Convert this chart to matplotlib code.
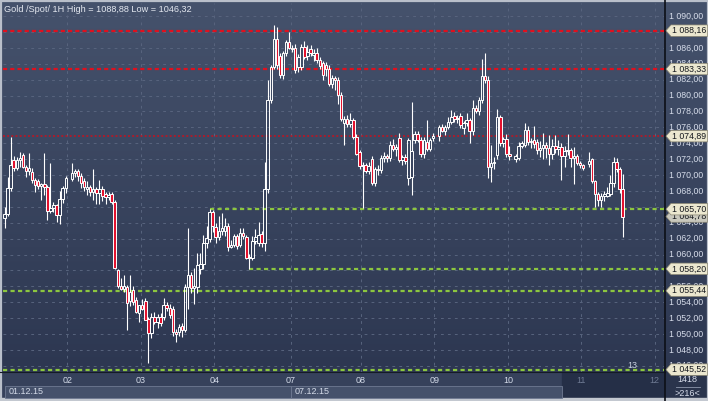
import numpy as np
import matplotlib.pyplot as plt
from matplotlib.patches import Polygon, Rectangle
from matplotlib.colors import LinearSegmentedColormap
from matplotlib.transforms import blended_transform_factory

plt.rcParams['font.family'] = ['Liberation Sans', 'DejaVu Sans']
plt.rcParams['lines.scale_dashes'] = False

# hourly candles (open, high, low, close), None = no bar
day01 = [
    (1064.6, 1066.0, 1063.3, 1065.1), (1065.1, 1069.8, 1064.8, 1068.4),
    (1068.4, 1074.8, 1068.0, 1071.3), (1071.9, 1072.4, 1070.5, 1070.9),
    (1070.9, 1072.3, 1070.6, 1071.9), (1071.9, 1072.9, 1071.0, 1072.2),
    (1072.5, 1072.8, 1070.9, 1071.0), (1071.0, 1071.2, 1069.8, 1070.5),
    (1070.5, 1072.8, 1070.0, 1070.9), (1070.4, 1070.9, 1069.0, 1069.4),
    (1069.4, 1069.6, 1067.9, 1068.7), (1069.2, 1069.5, 1068.3, 1068.6),
    (1068.6, 1069.0, 1066.9, 1068.9), (1068.9, 1072.8, 1067.5, 1068.5),
    (1068.5, 1068.8, 1064.3, 1065.5), (1065.5, 1071.5, 1065.2, 1065.9),
    (1065.9, 1066.6, 1065.3, 1066.2), (1066.2, 1066.4, 1064.1, 1065.0),
    (1065.0, 1068.0, 1063.8, 1067.0), (1067.0, 1068.6, 1066.5, 1068.4),
    (1068.4, 1069.9, 1067.8, 1069.6),
]
day02 = [
    None,
    (1069.5, 1071.5, 1069.2, 1070.2), (1070.2, 1070.8, 1069.8, 1070.5),
    (1070.5, 1070.7, 1069.2, 1069.9), (1069.9, 1070.3, 1068.4, 1069.0),
    (1069.2, 1069.6, 1068.0, 1068.5), (1068.3, 1069.2, 1067.5, 1068.5),
    (1068.5, 1068.8, 1067.3, 1067.9), (1067.9, 1070.8, 1066.8, 1068.2),
    (1068.3, 1068.5, 1066.4, 1067.7), (1067.7, 1069.4, 1066.3, 1068.2),
    (1068.2, 1068.6, 1066.7, 1067.3), (1067.6, 1067.9, 1066.3, 1067.2),
    (1067.2, 1067.9, 1066.9, 1067.5), (1067.6, 1067.9, 1066.4, 1066.6),
    (1066.6, 1066.8, 1058.2, 1058.3), (1058.0, 1058.2, 1055.8, 1056.0),
    (1056.0, 1057.0, 1055.5, 1055.7), (1055.7, 1057.4, 1055.3, 1056.0),
    (1055.9, 1056.2, 1050.5, 1053.9), (1054.2, 1057.4, 1053.5, 1055.3),
    (1055.5, 1056.0, 1053.7, 1054.0), (1054.3, 1054.6, 1052.6, 1052.8),
    (1052.7, 1053.7, 1051.5, 1053.6),
]
day03 = [
    (1053.6, 1054.4, 1053.0, 1053.2), (1054.1, 1054.5, 1051.7, 1051.8),
    (1051.9, 1052.2, 1046.32, 1050.1), (1050.1, 1052.6, 1049.5, 1052.2),
    (1052.2, 1052.8, 1051.3, 1051.5), (1051.5, 1052.5, 1050.8, 1052.2),
    (1052.2, 1052.6, 1051.0, 1051.4), (1052.2, 1054.5, 1051.8, 1053.6),
    (1053.6, 1054.0, 1052.9, 1053.3), (1053.3, 1053.8, 1052.0, 1052.4),
    (1053.2, 1053.5, 1049.7, 1050.3), (1050.3, 1050.6, 1049.0, 1050.0),
    (1050.3, 1051.3, 1049.8, 1050.9), (1051.0, 1051.4, 1049.6, 1050.5),
    (1050.5, 1056.3, 1050.2, 1055.9), (1055.9, 1063.3, 1053.2, 1057.4),
    (1057.4, 1057.8, 1055.2, 1055.8), (1055.8, 1058.3, 1053.8, 1056.0),
    (1055.9, 1060.2, 1055.2, 1058.7), (1058.2, 1060.2, 1057.5, 1058.8),
    (1058.8, 1062.5, 1058.2, 1061.4), (1061.4, 1063.6, 1060.8, 1062.1),
    (1062.0, 1065.7, 1061.6, 1065.4), (1065.4, 1065.6, 1062.8, 1063.6),
]
day04 = [
    (1063.5, 1064.0, 1061.5, 1062.2), (1062.2, 1064.8, 1061.8, 1063.0),
    (1063.0, 1065.2, 1062.5, 1063.3), (1063.0, 1064.6, 1062.3, 1063.6),
    (1063.6, 1064.0, 1060.5, 1061.0), (1061.0, 1061.8, 1060.8, 1061.2),
    (1061.2, 1062.6, 1060.9, 1062.3), (1062.3, 1062.6, 1060.7, 1061.1),
    (1061.2, 1063.3, 1060.9, 1062.7), (1062.7, 1063.3, 1062.0, 1062.3),
    (1062.2, 1062.5, 1059.4, 1059.6), (1059.6, 1060.1, 1058.2, 1059.7),
    (1059.6, 1062.3, 1059.3, 1061.7), (1061.7, 1063.2, 1061.3, 1062.2),
    (1061.5, 1064.1, 1061.1, 1062.5), (1062.6, 1063.0, 1061.0, 1061.4),
    (1061.4, 1071.7, 1060.5, 1068.3), (1068.3, 1082.0, 1067.8, 1079.4),
    (1079.4, 1083.8, 1079.0, 1083.6), (1083.6, 1088.88, 1083.3, 1087.1),
    (1087.1, 1088.6, 1083.4, 1083.8), (1085.0, 1085.4, 1082.2, 1082.6),
    (1082.6, 1085.6, 1082.1, 1085.3), (1085.3, 1087.0, 1085.0, 1086.7),
    (1086.7, 1088.0, 1085.8, 1086.0),
]
day07 = [
    (1086.0, 1086.4, 1085.5, 1085.9), (1086.0, 1086.5, 1082.8, 1083.2),
    (1083.6, 1085.2, 1083.0, 1084.9), (1083.6, 1086.5, 1083.2, 1086.1),
    (1086.1, 1086.8, 1084.6, 1084.9), (1085.0, 1086.4, 1084.5, 1085.5),
    (1085.8, 1086.3, 1085.0, 1085.3), (1085.1, 1085.8, 1084.4, 1085.3),
    (1085.3, 1086.0, 1084.1, 1084.5), (1084.5, 1084.8, 1083.4, 1083.7),
    (1084.1, 1084.4, 1082.0, 1082.6), (1083.8, 1084.2, 1082.4, 1083.3),
    (1083.4, 1083.8, 1081.2, 1081.5), (1081.5, 1082.6, 1081.0, 1082.2),
    (1082.2, 1082.5, 1080.7, 1082.0), (1082.0, 1082.3, 1078.9, 1080.1),
    (1080.1, 1080.4, 1076.8, 1077.0), (1076.5, 1077.4, 1073.8, 1077.0),
    (1077.0, 1077.6, 1076.0, 1076.4), (1076.4, 1077.8, 1076.0, 1076.9),
    (1076.9, 1077.2, 1074.5, 1074.8), (1074.8, 1075.1, 1072.5, 1072.7),
    (1072.9, 1073.2, 1070.8, 1071.1),
]
day08 = [
    (1071.1, 1071.6, 1065.8, 1071.2), (1071.2, 1071.5, 1070.2, 1070.5),
    (1070.5, 1071.6, 1070.1, 1071.1), (1072.0, 1072.4, 1068.8, 1069.0),
    (1069.0, 1071.0, 1068.6, 1070.7), (1070.7, 1071.2, 1070.0, 1070.6),
    (1070.6, 1072.5, 1070.3, 1072.1), (1072.1, 1072.9, 1071.6, 1072.4),
    (1072.4, 1072.6, 1071.7, 1072.1), (1072.1, 1074.3, 1071.8, 1073.8),
    (1073.8, 1074.5, 1073.0, 1073.3), (1073.3, 1073.9, 1072.4, 1073.5),
    (1074.6, 1075.3, 1071.6, 1071.9), (1071.9, 1072.5, 1071.3, 1072.3),
    (1072.3, 1072.7, 1071.4, 1071.8), (1069.6, 1074.6, 1068.7, 1074.4),
    (1069.7, 1079.2, 1067.5, 1073.0), (1074.4, 1075.6, 1074.0, 1075.2),
    (1075.2, 1075.5, 1074.1, 1074.4), (1074.4, 1074.8, 1072.3, 1072.6),
    (1072.6, 1074.8, 1072.2, 1074.4), (1074.2, 1076.9, 1073.0, 1073.3),
    (1073.3, 1074.6, 1073.0, 1074.4), (1074.6, 1075.3, 1074.3, 1074.9),
]
day09 = [
    None,
    (1074.9, 1076.3, 1074.3, 1076.0), (1076.0, 1076.4, 1075.4, 1075.6),
    (1075.6, 1076.3, 1075.0, 1076.0), (1076.0, 1077.3, 1075.8, 1076.7),
    (1076.7, 1078.2, 1076.4, 1077.3), (1077.4, 1077.9, 1076.7, 1077.0),
    (1077.0, 1077.6, 1076.6, 1077.2), (1077.4, 1077.8, 1075.9, 1076.3),
    (1075.9, 1076.8, 1075.2, 1076.6), (1076.6, 1077.8, 1076.2, 1076.9),
    (1076.9, 1077.2, 1074.0, 1075.6), (1075.6, 1079.4, 1075.0, 1078.4),
    (1078.4, 1078.8, 1077.8, 1078.0), (1078.0, 1079.8, 1077.6, 1079.5),
    (1079.5, 1084.6, 1079.0, 1082.5), (1082.5, 1085.4, 1081.6, 1082.0),
    (1082.0, 1082.4, 1069.6, 1071.0), (1071.0, 1073.8, 1069.1, 1071.5),
    (1071.5, 1072.3, 1070.8, 1071.6), (1072.5, 1078.3, 1072.0, 1077.3),
    (1077.3, 1077.6, 1073.7, 1074.0), (1074.0, 1074.8, 1073.5, 1074.5),
    (1074.5, 1075.2, 1072.3, 1072.6),
]
day10 = [
    (1072.6, 1073.6, 1071.9, 1072.4), None,
    (1072.0, 1072.6, 1071.7, 1072.4), (1072.2, 1074.2, 1071.9, 1073.7),
    (1073.7, 1074.3, 1073.4, 1074.0), (1073.8, 1076.5, 1073.5, 1075.7),
    (1075.7, 1076.2, 1073.8, 1074.1), (1074.1, 1074.6, 1073.4, 1074.3),
    (1074.4, 1076.2, 1073.4, 1073.9), (1074.2, 1074.5, 1072.6, 1073.2),
    (1073.2, 1074.3, 1072.3, 1073.4), (1073.4, 1075.3, 1072.0, 1073.8),
    (1073.8, 1074.2, 1072.1, 1073.4), (1073.4, 1075.0, 1071.2, 1072.6),
    (1072.6, 1074.5, 1072.0, 1073.7), (1073.7, 1075.0, 1072.8, 1073.3),
    (1073.3, 1074.4, 1072.5, 1073.5), (1073.5, 1074.0, 1069.4, 1072.4),
    (1072.4, 1073.6, 1071.0, 1073.0), (1073.0, 1075.2, 1072.5, 1073.1),
    (1073.1, 1073.4, 1071.0, 1072.1), (1072.1, 1073.5, 1068.9, 1072.4),
    (1072.4, 1072.7, 1071.3, 1071.5), (1071.5, 1071.8, 1070.9, 1071.2),
]
day11 = [
    (1071.2, 1071.4, 1070.6, 1070.9), None,
    (1071.4, 1072.9, 1071.0, 1071.8), (1072.0, 1072.2, 1069.0, 1069.2),
    (1069.2, 1069.4, 1066.0, 1067.6), (1067.6, 1067.9, 1066.1, 1066.9),
    (1066.9, 1067.7, 1066.0, 1067.4), (1067.4, 1068.0, 1066.7, 1067.6),
    (1067.4, 1068.5, 1067.2, 1067.8), (1067.6, 1070.0, 1067.3, 1069.0),
    (1069.0, 1072.3, 1068.5, 1071.7), (1071.7, 1072.2, 1070.4, 1070.7),
    (1070.7, 1071.0, 1067.8, 1068.2), (1068.2, 1070.1, 1062.2, 1064.78),
]

day_starts = [20.5, 44.5, 68.5, 93.5, 116.5, 140.5, 164.5, 188.5, 212.5]
day_labels = ['02', '03', '04', '07', '08', '09', '10', '11', '12']
week_labels = ['01.12.15', '07.12.15']
price_ticks = [1046, 1048, 1050, 1052, 1054, 1056, 1058, 1060, 1062, 1064, 1066, 1068,
               1070, 1072, 1074, 1076, 1078, 1080, 1082, 1084, 1086, 1088, 1090]
red_levels = [1088.16, 1083.33]
dotted_levels = [1074.89]
green_levels = [1065.70, 1058.20, 1055.44, 1045.52]
green_from = [67, 80, -0.5, -0.5]
last_price = 1064.78
visible_bars = 216
shift_bars = 13
total_bars = 1418

candles = day01 + day02 + day03 + day04 + day07 + day08 + day09 + day10 + day11

W, H = 708, 401
fig = plt.figure(figsize=(W / 100, H / 100), dpi=100)


def box(x0, y0, x1, y1):
    # pixel box, origin top-left
    return [x0 / W, 1 - y1 / H, (x1 - x0) / W, (y1 - y0) / H]


def fmt(p):
    return '{:,.2f}'.format(p).replace(',', ' ').replace('.', ',')


# background layer in pixel units
bg = fig.add_axes([0, 0, 1, 1])
bg.set_xlim(0, W)
bg.set_ylim(H, 0)
bg.axis('off')
cmap = LinearSegmentedColormap.from_list('bg', ['#45526c', '#2d3751'])
bg.imshow(np.linspace(0, 1, 200)[:, None], cmap=cmap, extent=(0, W, 372, 0), aspect='auto')
bg.add_patch(Rectangle((0, 372), W, 29, color='#36415b'))
bg.add_patch(Rectangle((562, 372), 103, 26, color='#252f47'))
bg.add_patch(Rectangle((665, 372), 43, 29, color='#2a344c'))
bg.plot([0, 665], [372, 372], color='#141a26', lw=0.8)
bg.plot([665, 665], [0, 401], color='#0c0f16', lw=1.2)
bg.plot([676, 700], [386.5, 386.5], color='#8d97ab', lw=0.6)
bg.text(687, 380, str(total_bars), color='#d6dcea', fontsize=6.5, ha='center', va='center')
bg.text(687, 393, '>%d<' % visible_bars, color='#d6dcea', fontsize=6.5, ha='center', va='center')
# frame
bg.add_patch(Rectangle((0.5, 0.5), W - 1, H - 1, fill=False, ec='#b9bfca', lw=1.6))
bg.add_patch(Rectangle((0, 398), W, 3, color='#c3c8d0'))
bg.text(4, 9, 'Gold /Spot/ 1H High = 1088,88 Low = 1046,32', color='#e4e8f0',
        fontsize=6.6, ha='left', va='center')

ax = fig.add_axes(box(3, 3, 664, 372))
ax.patch.set_alpha(0)
ax.set_xlim(-0.5, visible_bars - 0.5)
ax.set_ylim(1045.22, 1091.64)
ax.set_xticks([])
ax.set_yticks([])
for s in ax.spines.values():
    s.set_visible(False)

right = blended_transform_factory(ax.transAxes, ax.transData)
below = blended_transform_factory(ax.transData, ax.transAxes)

# grid
ax.hlines(price_ticks, -0.5, visible_bars - 0.5, color='#58647e', lw=0.7,
          linestyles=[(0, (2, 3))], zorder=1)
ax.vlines(day_starts, 1045.22, 1091.64, color='#58647e', lw=0.7,
          linestyles=[(0, (2, 3))], zorder=1)

# levels
ax.hlines(red_levels, -0.5, visible_bars - 0.5, color='#e0101e', lw=1.6,
          linestyles=[(0, (3, 2.2))], zorder=2)
ax.hlines(dotted_levels, -0.5, visible_bars - 0.5, color='#c8101e', lw=1.1,
          linestyles=[(0, (1.4, 1.6))], zorder=2)
ax.hlines(green_levels, green_from, visible_bars - 0.5, color='#8cc63f', lw=1.6,
          linestyles=[(0, (3, 2.4))], zorder=2)

# candles
for i, c in enumerate(candles):
    if c is None:
        continue
    o, h, l, cl = c
    top, bot = max(o, cl), min(o, cl)
    ax.vlines(i, top, h, color='white', lw=0.8, zorder=3)
    ax.vlines(i, l, bot, color='white', lw=0.8, zorder=3)
    face = 'none' if cl >= o else '#e3122e'
    ax.bar(i, top - bot, bottom=bot, width=0.8, facecolor=face, edgecolor='white',
           lw=0.7, zorder=4)

ax.text(len(candles) + 2, 1046.0, str(shift_bars), color='#c8d0e0',
        fontsize=6.5, ha='center', va='center', zorder=5)

# price scale
for p in price_ticks:
    ax.text(1.0075, p, fmt(p), transform=right, color='#d6dcea', fontsize=6.3,
            ha='left', va='center', clip_on=False)

hh = 0.72


def tag(p, fc, z):
    ax.add_patch(Polygon([(1.003, p), (1.0106, p + hh), (1.066, p + hh), (1.066, p - hh),
                          (1.0106, p - hh)], closed=True, transform=right, fc=fc,
                         ec='#8a8672', lw=0.5, clip_on=False, zorder=z))
    ax.text(1.0115, p, fmt(p), transform=right, color='#15181e', fontsize=6.3,
            ha='left', va='center', clip_on=False, zorder=z + 0.5)


tag(last_price, '#c9c8bd', 6)
for p in red_levels + dotted_levels + green_levels:
    tag(p, '#ebe7cf', 7)

# time scale
for d, lab in zip(day_starts, day_labels):
    col = '#d3dae8' if d < len(candles) - 20 else '#6d7992'
    ax.text(d, -0.023, lab, transform=below, color=col, fontsize=6.5, ha='center',
            va='center', clip_on=False)
week_edges = [0.2, day_starts[3] + 0.1, 182.2]
for k, lab in enumerate(week_labels):
    ax.add_patch(Rectangle((week_edges[k], -0.0705), week_edges[k + 1] - week_edges[k], 0.032,
                           transform=below, fc='#45516b', ec='#6f7a92', lw=0.6, clip_on=False))
    ax.text(week_edges[k] + 1.2, -0.054, lab, transform=below, color='#d3dae8', fontsize=6.5,
            ha='left', va='center', clip_on=False)

fig.savefig('out.png', dpi=100)
